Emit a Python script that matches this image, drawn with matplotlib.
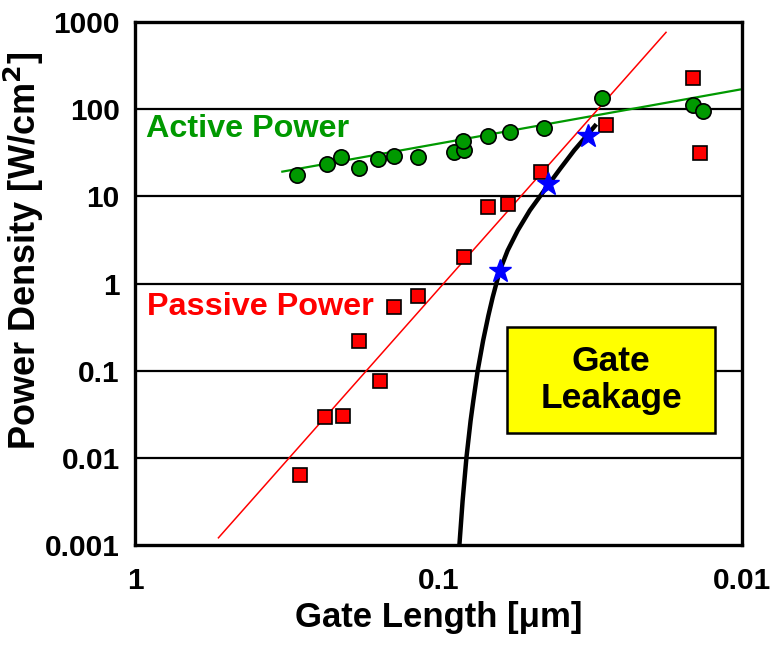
import matplotlib
matplotlib.use("Agg")
import matplotlib.pyplot as plt
from matplotlib.patches import Rectangle
from matplotlib.ticker import FixedLocator, NullLocator

# Active power (circles) and its trend line
active_len = [0.293, 0.233, 0.210, 0.183, 0.158, 0.140, 0.117, 0.0887,
              0.0822, 0.0832, 0.0689, 0.0582, 0.0448, 0.0289, 0.0145, 0.0134]
active_pow = [17.4, 23.8, 28.3, 21.4, 26.6, 29.4, 27.9, 32.3,
              34.4, 43.2, 48.9, 54.0, 61.0, 136, 112, 94.8]
active_fit_len = [0.327, 0.01016]
active_fit_pow = [19.2, 168]

# Passive power (squares) and its trend line
passive_len = [0.0145, 0.0281, 0.01375, 0.0459, 0.0689, 0.0590, 0.0826,
               0.1166, 0.140, 0.183, 0.156, 0.236, 0.207, 0.287]
passive_pow = [227, 66.0, 31.8, 19.2, 7.53, 8.09, 1.99,
               0.728, 0.544, 0.217, 0.0753, 0.0298, 0.0304, 0.00638]
passive_fit_len = [0.531, 0.0178]
passive_fit_pow = [0.00121, 761]

# Gate leakage curve and stars
leak_len = [0.0854, 0.0833, 0.0809, 0.0784, 0.0768, 0.0743, 0.0713, 0.0685,
            0.0663, 0.0628, 0.0592, 0.0548, 0.0500, 0.0440, 0.0397, 0.0357,
            0.0328, 0.0302]
leak_pow = [0.00097, 0.00320, 0.0101, 0.0266, 0.0452, 0.100, 0.221, 0.429,
            0.696, 1.41, 2.39, 4.07, 6.91, 12.8, 20.8, 33.8,
            47.7, 67.2]
star_len = [0.0626, 0.0437, 0.0321]
star_pow = [1.41, 14.0, 48.9]

y_ticks = [0.001, 0.01, 0.1, 1, 10, 100, 1000]
y_tick_labels = ["0.001", "0.01", "0.1", "1", "10", "100", "1000"]
x_ticks = [1, 0.1, 0.01]
x_tick_labels = ["1", "0.1", "0.01"]

GREEN = "#009900"

plt.rcParams["font.family"] = ["Liberation Sans", "DejaVu Sans"]
plt.rcParams["font.weight"] = "bold"

fig = plt.figure(figsize=(7.74, 6.45), dpi=100)
ax = fig.add_axes([0.1744, 0.155, 0.7843, 0.8109])

ax.set_xscale("log")
ax.set_yscale("log")
ax.set_xlim(1, 0.01)
ax.set_ylim(0.001, 1000)

for t in y_ticks[1:-1]:
    ax.axhline(t, color="black", lw=1.6, zorder=1)

ax.plot(active_fit_len, active_fit_pow, color=GREEN, lw=1.6, zorder=2)
ax.plot(passive_fit_len, passive_fit_pow, color="red", lw=1.1, zorder=2)
ax.plot(leak_len, leak_pow, color="black", lw=3.2, zorder=3,
        solid_capstyle="butt", solid_joinstyle="round")

ax.plot(active_len, active_pow, "o", ms=11, mfc=GREEN, mec="black",
        mew=1.2, zorder=4)
ax.plot(passive_len, passive_pow, "s", ms=10.5, mfc="red", mec="black",
        mew=1.2, zorder=4)
ax.plot(star_len, star_pow, "*", ms=17, color="blue", mec="blue", zorder=5)

ax.text(0.92, 60, "Active Power", color=GREEN, fontsize=23.3,
        fontweight="bold", va="center", ha="left")
ax.text(0.913, 0.54, "Passive Power", color="red", fontsize=23.3,
        fontweight="bold", va="center", ha="left")

# yellow "Gate Leakage" label box
ax.add_patch(Rectangle((0.613, 0.214), 0.3425, 0.203, transform=ax.transAxes,
                       facecolor="yellow", edgecolor="black", lw=1.8,
                       zorder=6))
ax.text(0.7845, 0.3155, "Gate\nLeakage", transform=ax.transAxes,
        fontsize=25.5, fontweight="bold", ha="center", va="center",
        linespacing=1.15, zorder=7)

ax.yaxis.set_major_locator(FixedLocator(y_ticks))
ax.set_yticklabels(y_tick_labels)
ax.yaxis.set_minor_locator(NullLocator())
ax.xaxis.set_major_locator(FixedLocator(x_ticks))
ax.set_xticklabels(x_tick_labels)
ax.xaxis.set_minor_locator(NullLocator())
ax.tick_params(axis="both", length=0, labelsize=21.5)
ax.tick_params(axis="y", pad=11)
ax.tick_params(axis="x", pad=16)

for spine in ax.spines.values():
    spine.set_linewidth(2.4)
    spine.set_color("black")

ax.set_xlabel("Gate Length [\u03bcm]", fontsize=25, fontweight="bold",
              labelpad=4)
ax.set_ylabel("Power Density [W/cm$^\\mathbf{2}$]", fontsize=26,
              fontweight="bold")
ax.yaxis.set_label_coords(-0.146, 0.562)

fig.savefig("out.png", dpi=100)
